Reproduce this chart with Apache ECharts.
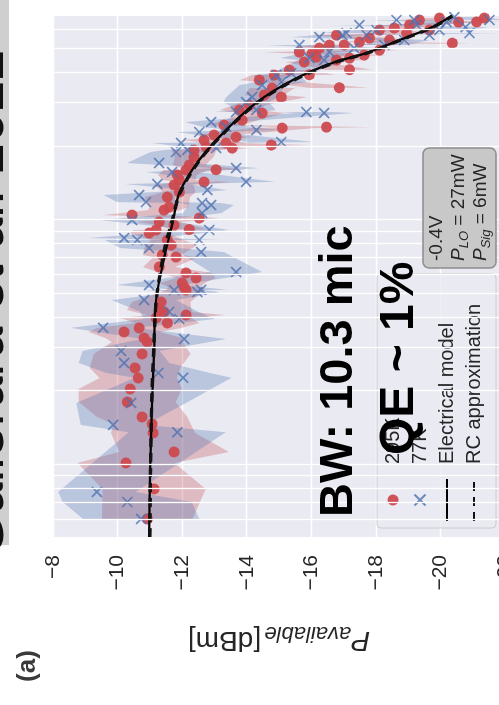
<!DOCTYPE html>
<html>
<head>
<meta charset="utf-8">
<script src="https://cdn.jsdelivr.net/npm/echarts@6/dist/echarts.min.js"></script>
<style>
  html, body { margin: 0; padding: 0; background: #ffffff; }
  #frame { position: relative; width: 499px; height: 705px; overflow: hidden; background: #ffffff; }
  /* the figure is laid out in landscape and turned a quarter turn counter-clockwise;
     the first 30px of the canvas fall outside the frame on the left */
  #chart { position: absolute; left: 0; top: 0; width: 705px; height: 560px;
           transform-origin: 0 0; transform: translate(-30px, 705px) rotate(-90deg); }
</style>
</head>
<body>
<div id="frame"><div id="chart"></div></div>
<script>
// Frequency in GHz (log axis), available power in dBm.
const freqRange = [0.508, 68.1];
const powerTicks = [-22, -8, 2];            // min, max, step
const gridFreq = [0.6, 0.7, 0.8, 0.9, 1, 2, 3, 4, 5, 6, 7, 8, 9, 10, 20, 30, 40, 50, 60];

const redName = '295K';
const redFreq = [0.602,0.798,1.019,1.130,1.351,1.470,1.570,1.807,2.043,2.265,
  2.489,2.839,3.177,3.299,3.491,3.625,3.799,3.981,4.095,4.212,
  4.292,4.627,5.180,5.328,5.533,5.800,6.078,6.430,7.063,7.197,
  7.907,8.287,8.849,9.103,9.15,9.541,9.813,10.19,10.48,10.98,
  11.30,12.41,13.01,13.90,14.30,14.57,15.27,16.00,16.05,16.77,
  18.08,19.31,19.67,19.86,20.24,20.62,21.21,21.82,22.23,23.74,
  23.96,24.42,25.60,27.34,28.12,29.47,31.77,32.37,34.57,34.70,
  37.28,39.07,39.20,40.95,41.10,44.16,45.00,46.27,45.84,47.15,
  48.04,48.49,49.41,50.35,51.80,51.90,52.78,53.28,54.29,55.33,
  56.90,57.98,59.64,59.70,60.77,62.51,64.30,64.40,65.52,66.76,66.80];
const redPower = [-10.92,-11.13,-10.26,-11.75,-11.10,-11.07,-10.76,-10.30,-10.39,-10.64,
  -10.54,-10.76,-10.92,-10.82,-10.20,-10.67,-11.54,-11.19,-12.12,-11.44,
  -11.29,-11.35,-12.12,-12.06,-12.00,-12.43,-12.12,-11.29,-11.81,-11.38,
  -11.66,-11.54,-10.98,-11.19,-12.22,-11.75,-11.29,-12.53,-10.45,-11.44,
  -11.60,-11.54,-11.91,-11.75,-12.68,-11.91,-11.85,-12.12,-13.05,-12.22,
  -12.37,-12.37,-13.55,-12.74,-14.76,-13.36,-12.68,-13.67,-12.99,-15.10,
  -16.47,-13.30,-13.86,-14.48,-13.77,-14.08,-15.07,-14.54,-14.79,-16.87,
  -14.39,-14.85,-15.94,-15.32,-17.18,-15.78,-16.78,-16.16,-17.18,-17.64,
  -16.03,-15.63,-18.11,-16.25,-16.56,-17.02,-20.37,-17.49,-18.42,-17.80,
  -16.78,-18.95,-18.11,-19.66,-18.57,-19.04,-20.56,-21.12,-19.35,-19.97,-21.36];
const redErr = [1.4,1.6,1.5,1.7,1.3,1.2,1.4,1.5,1.6,1.2,
  1.4,1.5,1.1,1.2,1.1,1.3,1.0,1.1,1.2,0.9,
  1.0,0.9,0.6,0.5,0.7,0.6,0.8,0.5,0.7,0.6,
  0.8,0.5,0.6,0.7,0.6,0.5,0.7,0.6,0.9,0.5,
  0.6,0.7,0.5,0.6,0.8,0.5,0.6,0.7,0.9,0.5,
  0.6,0.7,0.6,0.5,1.2,0.6,0.7,0.5,0.6,1.0,
  1.4,0.6,0.5,0.7,0.6,0.5,0.8,0.6,0.7,0.9,
  0.6,0.7,0.8,0.6,0.7,0.6,0.8,0.6,0.5,0.7,
  0.9,1.1,0.6,0.8,0.6,0.7,0.6,0.7,0.8,0.6,
  0.9,0.7,0.8,0.6,0.7,0.8,0.6,0.7,0.6,0.7,0.5];

const blueName = '77K';
const blueFreq = [0.602,0.706,0.776,1.36,1.457,1.791,2.27,2.374,2.608,2.920,
  3.268,3.63,3.944,4.22,4.715,5.19,5.17,5.083,5.429,6.135,
  7.402,7.686,8.29,8.30,8.444,9.11,10.0,10.68,11.51,11.73,
  11.84,12.65,13.26,14.03,14.32,15.70,16.30,17.09,18.95,19.33,
  19.69,20.64,20.82,22.87,23.30,23.98,25.12,27.36,27.60,27.62,
  28.14,30.31,31.79,35.56,36.59,39.09,39.81,45.02,45.86,48.51,
  50.37,51.82,51.84,54.31,55.84,56.92,56.95,56.97,58.00,58.02,
  59.66,59.68,61.35,62.53,62.55,64.32,65.54,65.56,65.58,67.39];
const bluePower = [-10.73,-10.30,-9.36,-11.85,-9.86,-10.42,-12.03,-11.26,-10.20,-10.11,
  -12.06,-9.55,-11.91,-11.60,-10.82,-12.59,-11.75,-12.47,-10.98,-13.67,
  -12.59,-10.98,-10.61,-12.53,-10.20,-12.84,-10.45,-12.62,-12.90,-12.62,
  -10.88,-10.67,-12.78,-11.23,-13.98,-11.69,-13.67,-11.29,-11.81,-12.16,
  -13.05,-11.97,-15.07,-12.53,-14.30,-13.36,-12.90,-16.40,-15.85,-13.67,
  -14.30,-13.98,-14.17,-14.48,-15.07,-14.92,-15.38,-16.40,-15.94,-16.56,
  -17.33,-15.63,-18.26,-18.88,-16.25,-16.96,-19.66,-17.71,-20.90,-17.09,
  -18.02,-19.97,-20.78,-17.49,-19.26,-20.19,-18.64,-19.19,-21.52,-20.43];
const blueErr = [1.8,2.0,1.2,1.5,1.0,1.7,1.5,1.6,1.4,1.2,
  1.3,1.0,1.1,0.9,1.0,0.8,0.9,0.7,1.0,0.8,
  0.7,0.9,1.0,0.7,1.1,0.6,1.0,0.6,0.7,0.6,
  0.9,1.1,0.6,1.0,0.9,0.8,0.7,1.0,0.8,0.7,
  0.8,0.9,1.0,0.7,0.8,0.7,0.8,0.9,0.8,0.7,
  0.6,0.7,0.8,0.7,0.8,0.7,0.6,0.8,0.9,0.7,
  0.8,1.0,0.7,0.8,0.9,0.7,0.8,0.7,0.9,0.8,
  0.7,0.8,0.7,0.9,0.8,0.7,0.8,0.7,0.6,0.7];

const modelFreq = [0.508,0.955,1.84,2.94,4.71,7.55,10.0,12.9,17.6,23.3,30.1,37.2,43.8,48.1,54.3,61.4,68.1];
const modelPower = [-10.98,-11.01,-11.07,-11.13,-11.19,-11.50,-11.72,-11.91,-12.53,-13.36,-14.29,-15.41,-16.65,-17.71,-18.73,-19.75,-20.34];
const rcPower = [-11.00,-11.02,-11.06,-11.12,-11.20,-11.45,-11.70,-11.93,-12.55,-13.38,-14.32,-15.45,-16.68,-17.74,-18.76,-19.78,-20.37];

const FONT = '"Liberation Sans", Arial, Helvetica, sans-serif';
const X_MARK = 'path://M0,0L10,10M10,0L0,10';

const zip = (a, b) => a.map((v, i) => [v, b[i]]);

// shaded uncertainty band (fill between power-err and power+err, sorted by frequency)
function bandSeries(freq, power, err, fill) {
  const order = freq.map((_, i) => i).sort((a, b) => freq[a] - freq[b]);
  return {
    type: 'custom', silent: true, z: 1, clip: true,
    data: [[freq[order[0]], power[order[0]]]],
    renderItem(params, api) {
      const upper = order.map(i => api.coord([freq[i], power[i] + err[i]]));
      const lower = order.map(i => api.coord([freq[i], power[i] - err[i]])).reverse();
      const cs = params.coordSys;
      return {
        type: 'polygon',
        shape: { points: upper.concat(lower) },
        style: { fill: fill },
        clipPath: { type: 'rect', shape: { x: cs.x, y: cs.y, width: cs.width, height: cs.height } }
      };
    }
  };
}

const chart = echarts.init(document.getElementById('chart'), null, { renderer: 'canvas' });

const option = {
  animation: false,
  backgroundColor: '#ffffff',
  grid: { left: 168, right: 16, top: 83, bottom: 25, show: true, backgroundColor: '#EAEAF2',
          borderWidth: 0, containLabel: false, outerBoundsMode: 'none' },
  xAxis: {
    type: 'log', logBase: 10, min: freqRange[0], max: freqRange[1],
    axisLine: { show: false }, axisTick: { show: false }, axisLabel: { show: false },
    splitLine: { show: false }
  },
  yAxis: {
    type: 'value', min: powerTicks[0], max: powerTicks[1], interval: powerTicks[2],
    axisLine: { show: false }, axisTick: { show: false },
    axisLabel: { margin: 18, fontSize: 21, color: '#262626', fontFamily: FONT,
                 formatter: v => String(v).replace('-', '\u2212') },
    splitLine: { show: true, lineStyle: { color: '#ffffff', width: 1.3 } },
    name: '{p|P}{s|available} {n|[dBm]}',
    nameLocation: 'middle', nameRotate: 90, nameGap: 85,
    nameTextStyle: {
      color: '#262626', fontFamily: FONT,
      rich: {
        p: { fontSize: 28, fontStyle: 'italic', fontFamily: FONT, color: '#262626', lineHeight: 36 },
        s: { fontSize: 22, fontStyle: 'italic', fontFamily: FONT, color: '#262626', lineHeight: 22, verticalAlign: 'bottom' },
        n: { fontSize: 28, fontFamily: FONT, color: '#262626', lineHeight: 36 }
      }
    }
  },
  legend: {
    orient: 'vertical', left: 177, top: 407,
    padding: [6, 30, 12, 6], itemGap: 7, itemWidth: 42, itemHeight: 11,
    backgroundColor: 'rgba(234,234,242,0.8)', borderColor: '#CCCCCC', borderWidth: 1, borderRadius: 4,
    selectedMode: false,
    textStyle: { fontSize: 20, fontFamily: FONT, color: '#262626', lineHeight: 20, padding: [0, 0, 0, 10] },
    data: [
      { name: redName, icon: 'circle' },
      { name: blueName, icon: X_MARK },
      { name: 'Electrical model', itemStyle: { opacity: 0 } },
      { name: 'RC approximation', itemStyle: { opacity: 0 } }
    ]
  },
  series: [
    { // log-frequency grid lines
      type: 'line', data: zip(modelFreq, modelPower), symbol: 'none', silent: true, z: 0,
      lineStyle: { opacity: 0 },
      markLine: {
        silent: true, symbol: ['none', 'none'], label: { show: false }, animation: false,
        lineStyle: { color: '#ffffff', width: 1.3, type: 'solid' },
        data: gridFreq.map(f => ({ xAxis: f }))
      }
    },
    bandSeries(redFreq, redPower, redErr, 'rgba(196,78,82,0.3)'),
    bandSeries(blueFreq, bluePower, blueErr, 'rgba(76,114,176,0.3)'),
    {
      type: 'scatter', name: redName, data: zip(redFreq, redPower), z: 3,
      symbol: 'circle', symbolSize: 11,
      itemStyle: { color: '#CD4A4F', opacity: 0.95 }
    },
    {
      type: 'scatter', name: blueName, data: zip(blueFreq, bluePower), z: 3,
      symbol: X_MARK, symbolSize: 10,
      itemStyle: { color: 'rgba(0,0,0,0)', borderColor: '#4C72B0', borderWidth: 1.7 }
    },
    {
      type: 'line', name: 'Electrical model', data: zip(modelFreq, modelPower), z: 4,
      smooth: 0.3, symbol: 'none', showSymbol: false,
      itemStyle: { color: '#000000', opacity: 0 },
      lineStyle: { color: '#000000', width: 2.2, opacity: 1 }
    },
    {
      type: 'line', name: 'RC approximation', data: zip(modelFreq, rcPower), z: 4,
      smooth: 0.3, symbol: 'none', showSymbol: false,
      itemStyle: { color: '#111111', opacity: 0 },
      lineStyle: { color: '#111111', width: 3.4, type: [9, 6], opacity: 1 }
    }
  ],
  graphic: {
    elements: [
      { type: 'rect', z: 1, shape: { x: 160, y: 30, width: 545, height: 9 }, style: { fill: '#CFCFCF' } },
      { type: 'text', z: 120, x: 148, y: 18,
        style: { text: 'Gallerara et al. 2022', fontSize: 56, fontFamily: FONT, fill: '#111111',
                 align: 'left', verticalAlign: 'middle' } },
      { type: 'text', z: 91, x: 39, y: 58,
        style: { text: '(a)', fontSize: 26, fontWeight: 'bold', fontFamily: FONT, fill: '#3a3a3a',
                 align: 'center', verticalAlign: 'middle' } },
      { type: 'rect', z: 50, shape: { x: 437, y: 453, width: 120, height: 73, r: 6 },
        style: { fill: '#C8C8C8', stroke: '#8C8C8C', lineWidth: 1.5 } },
      { type: 'text', z: 51, x: 444, y: 467,
        style: { text: '-0.4V', fontSize: 19, fontFamily: FONT, fill: '#262626', align: 'left', verticalAlign: 'middle' } },
      { type: 'text', z: 51, x: 444, y: 489,
        style: { text: '{i|P}{s|LO}{n| = 27mW}', align: 'left', verticalAlign: 'middle',
                 rich: {
                   i: { fontSize: 19, fontStyle: 'italic', fontFamily: FONT, fill: '#262626', lineHeight: 24 },
                   s: { fontSize: 13, fontStyle: 'italic', fontFamily: FONT, fill: '#262626', lineHeight: 13, verticalAlign: 'bottom' },
                   n: { fontSize: 19, fontFamily: FONT, fill: '#262626', lineHeight: 24 }
                 } } },
      { type: 'text', z: 51, x: 444, y: 511,
        style: { text: '{i|P}{s|Sig}{n| = 6mW}', align: 'left', verticalAlign: 'middle',
                 rich: {
                   i: { fontSize: 19, fontStyle: 'italic', fontFamily: FONT, fill: '#262626', lineHeight: 24 },
                   s: { fontSize: 13, fontStyle: 'italic', fontFamily: FONT, fill: '#262626', lineHeight: 13, verticalAlign: 'bottom' },
                   n: { fontSize: 19, fontFamily: FONT, fill: '#262626', lineHeight: 24 }
                 } } },
      { type: 'text', z: 100, x: 188, y: 369,
        style: { text: 'BW: 10.3 mic', fontSize: 47, fontWeight: 'bold', fontFamily: FONT, fill: '#000000',
                 align: 'left', verticalAlign: 'middle' } },
      { type: 'text', z: 100, x: 250, y: 430,
        style: { text: 'QE ~ 1%', fontSize: 48, fontWeight: 'bold', fontFamily: FONT, fill: '#000000',
                 align: 'left', verticalAlign: 'middle' } }
    ]
  }
};

chart.setOption(option);
</script>
</body>
</html>
